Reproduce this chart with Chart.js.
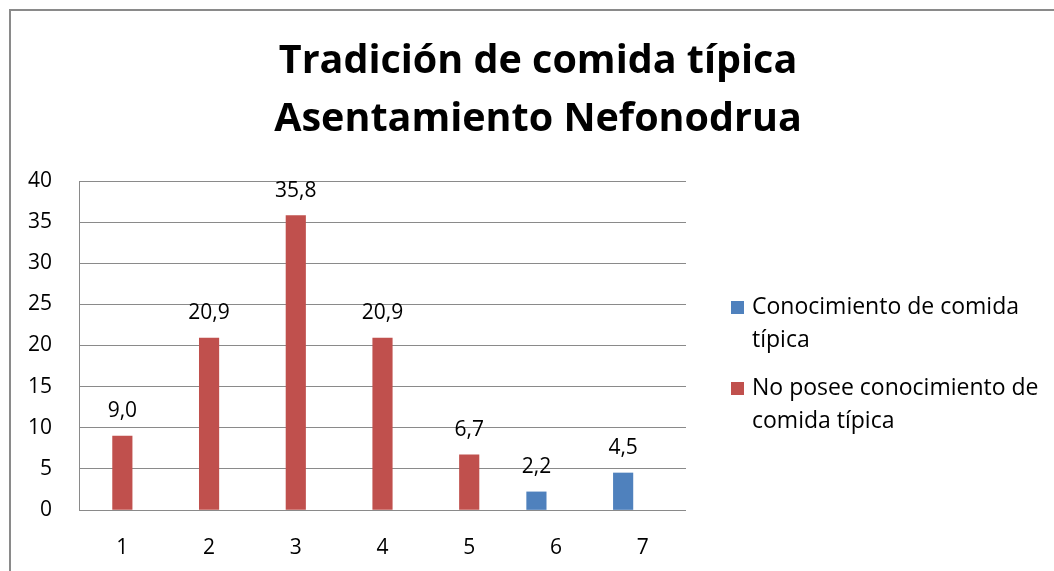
<!DOCTYPE html>
<html>
<head>
<meta charset="utf-8">
<script src="https://cdn.jsdelivr.net/npm/chart.js@4/dist/chart.umd.min.js"></script>
<style>
    html, body { margin: 0; padding: 0; background: #fff; overflow: hidden; }
    #wrap { position: relative; width: 1054px; height: 571px; }
</style>
</head>
<body>
<div id="wrap"><canvas id="chart"></canvas></div>
<script>
const categories = ['1', '2', '3', '4', '5', '6', '7'];
const conocimiento = [null, null, null, null, null, 2.2, 4.5];
const noPosee = [9.0, 20.9, 35.8, 20.9, 6.7, null, null];
const emptySeries = [null, null, null, null, null, null, null];
const seriesNames = ['Conocimiento de comida típica', 'No posee conocimiento de comida típica'];
const legendLines = [['Conocimiento de comida', 'típica'], ['No posee conocimiento de', 'comida típica']];
const titleLines = ['Tradición de comida típica', 'Asentamiento Nefonodrua'];

const FONT = '"Open Sans", sans-serif';
const gridColor = '#8a8a8a';

// frame, title, value labels and legend
const decorations = {
    id: 'decorations',
    beforeDraw(chart) {
        const ctx = chart.ctx;
        ctx.save();
        ctx.fillStyle = '#8a8a8a';
        ctx.fillRect(9, 9, 2, 571);
        ctx.fillRect(9, 9, 1054, 2);
        ctx.restore();
    },
    afterDraw(chart) {
        const ctx = chart.ctx;
        ctx.save();
        ctx.fillStyle = '#000';
        ctx.textAlign = 'center';
        ctx.textBaseline = 'middle';
        ctx.font = 'bold 39.5px ' + FONT;
        ctx.fillText(titleLines[0], 538, 62);
        ctx.fillText(titleLines[1], 538, 120);

        ctx.font = '21px ' + FONT;
        chart.data.datasets.forEach((ds, i) => {
            chart.getDatasetMeta(i).data.forEach((bar, j) => {
                const v = ds.data[j];
                if (v === null) return;
                ctx.fillText(v.toFixed(1).replace('.', ','), bar.x, bar.y - 25);
            });
        });

        ctx.textAlign = 'left';
        ctx.font = '23px ' + FONT;
        const legendY = [307, 388];
        seriesNames.forEach((name, i) => {
            ctx.fillStyle = chart.data.datasets[i].backgroundColor;
            ctx.fillRect(731, legendY[i] - 6, 13, 13);
            ctx.fillStyle = '#000';
            legendLines[i].forEach((line, k) => {
                ctx.fillText(line, 752, legendY[i] + k * 33);
            });
        });
        ctx.restore();
    }
};

const ctx = document.getElementById('chart').getContext('2d');
new Chart(ctx, {
    type: 'bar',
    data: {
        labels: categories,
        datasets: [{
            label: seriesNames[0],
            data: conocimiento,
            backgroundColor: '#4F81BD',
            barThickness: 19.5
        }, {
            label: seriesNames[1],
            data: noPosee,
            backgroundColor: '#C0504D',
            barThickness: 19.5
        }, {
            label: '',
            data: emptySeries,
            backgroundColor: 'rgba(0,0,0,0)',
            barThickness: 19.5
        }]
    },
    options: {
        responsive: true,
        maintainAspectRatio: false,
        animation: false,
        layout: { padding: { top: 181, right: 368, bottom: 0, left: 0 } },
        plugins: {
            legend: { display: false },
            title: { display: false },
            tooltip: { enabled: false }
        },
        scales: {
            x: {
                grid: { display: false, drawTicks: false },
                border: { display: false },
                ticks: { color: '#000', font: { family: FONT, size: 21 }, padding: 25 },
                afterFit(scale) { scale.height = 61; }
            },
            y: {
                min: 0,
                max: 40,
                grid: { color: gridColor, lineWidth: 1, drawTicks: false },
                border: { color: gridColor, width: 1 },
                ticks: { stepSize: 5, color: '#000', font: { family: FONT, size: 21 }, padding: 27 },
                afterFit(scale) { scale.width = 79; }
            }
        }
    },
    plugins: [decorations]
});
</script>
</body>
</html>
